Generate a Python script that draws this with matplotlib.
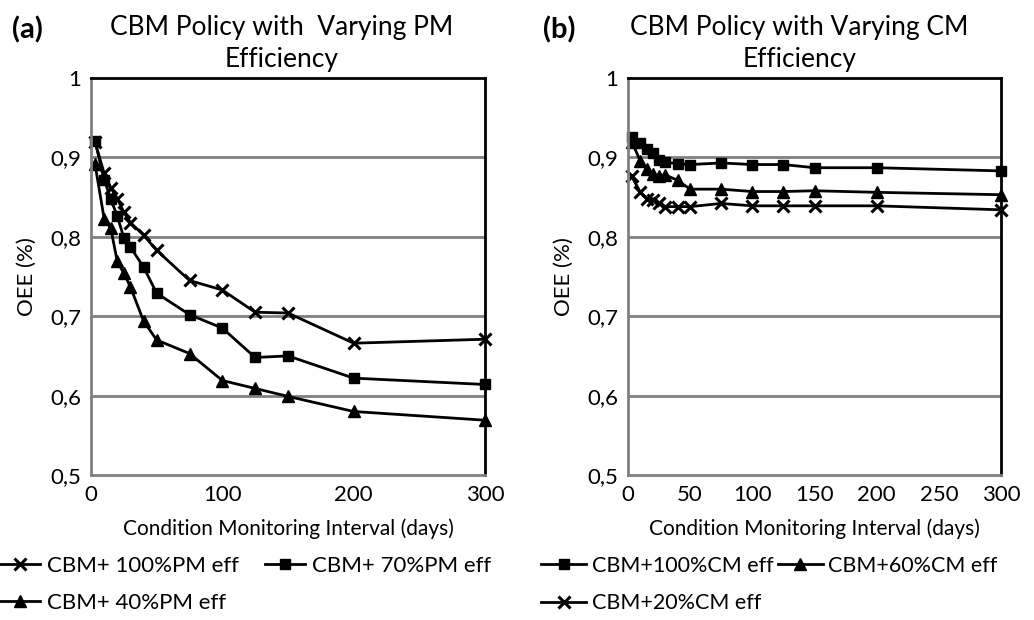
import numpy as np
import matplotlib
matplotlib.use('Agg')
import matplotlib.pyplot as plt
from matplotlib.ticker import FuncFormatter

plt.rcParams['font.family'] = ['Lato', 'DejaVu Sans']

# Daten (a): PM efficiency
tage = [3, 10, 15, 20, 25, 30, 40, 50, 75, 100, 125, 150, 200, 300]
pm_100 = [0.920, 0.880, 0.862, 0.848, 0.831, 0.818, 0.802, 0.783, 0.745, 0.733, 0.705, 0.704, 0.666, 0.671]
pm_70 = [0.921, 0.872, 0.848, 0.826, 0.799, 0.787, 0.762, 0.729, 0.702, 0.685, 0.648, 0.650, 0.622, 0.614]
pm_40 = [0.892, 0.823, 0.811, 0.769, 0.754, 0.737, 0.694, 0.670, 0.653, 0.619, 0.609, 0.599, 0.580, 0.569]

# Daten (b): CM efficiency
cm_100 = [0.926, 0.918, 0.910, 0.905, 0.897, 0.894, 0.892, 0.891, 0.893, 0.891, 0.891, 0.887, 0.887, 0.883]
cm_60 = [0.920, 0.895, 0.885, 0.879, 0.876, 0.878, 0.871, 0.860, 0.860, 0.857, 0.857, 0.858, 0.856, 0.853]
cm_20 = [0.876, 0.856, 0.848, 0.846, 0.842, 0.838, 0.838, 0.838, 0.842, 0.839, 0.839, 0.839, 0.839, 0.834]

labels_a = ['CBM+ 100%PM eff', 'CBM+ 70%PM eff', 'CBM+ 40%PM eff']
labels_b = ['CBM+100%CM eff', 'CBM+60%CM eff', 'CBM+20%CM eff']

fig = plt.figure(figsize=(10.34, 6.2), dpi=100)
ax1 = fig.add_axes([91 / 1034, 1 - 475 / 620, 394 / 1034, 397 / 620])
ax2 = fig.add_axes([628 / 1034, 1 - 475 / 620, 373 / 1034, 397 / 620])


def komma(v, pos):
    if abs(v - 1) < 1e-9:
        return '1'
    return f'{v:.1f}'.replace('.', ',')


def achse_stil(ax, xticks):
    ax.set_xlim(0, 300)
    ax.set_ylim(0.5, 1.0)
    ax.set_xticks(xticks)
    ax.set_yticks([0.5, 0.6, 0.7, 0.8, 0.9, 1.0])
    ax.yaxis.set_major_formatter(FuncFormatter(komma))
    ax.tick_params(length=0, labelsize=16, pad=7)
    for y in [0.6, 0.7, 0.8, 0.9]:
        ax.axhline(y, color='#808080', lw=2, zorder=0)
    for s in ['left', 'bottom']:
        ax.spines[s].set_color('#808080')
        ax.spines[s].set_linewidth(2)
    for s in ['top', 'right']:
        ax.spines[s].set_color('black')
        ax.spines[s].set_linewidth(2)
    ax.set_ylabel('OEE (%)', fontsize=16, labelpad=10)
    ax.set_xlabel('Condition Monitoring Interval (days)', fontsize=15, labelpad=10)


# (a)
ax1.plot(tage, pm_100, color='black', lw=2, marker='x', ms=8, mew=2.2, label=labels_a[0], clip_on=False)
ax1.plot(tage, pm_70, color='black', lw=2, marker='s', ms=6.5, label=labels_a[1], clip_on=False)
ax1.plot(tage, pm_40, color='black', lw=2, marker='^', ms=8, label=labels_a[2], clip_on=False)
achse_stil(ax1, [0, 100, 200, 300])

# (b)
ax2.plot(tage, cm_100, color='black', lw=2, marker='s', ms=6.5, label=labels_b[0], clip_on=False)
ax2.plot(tage, cm_60, color='black', lw=2, marker='^', ms=8, label=labels_b[1], clip_on=False)
ax2.plot(tage, cm_20, color='black', lw=2, marker='x', ms=8, mew=2.2, label=labels_b[2], clip_on=False)
achse_stil(ax2, [0, 50, 100, 150, 200, 250, 300])

# Titel
ax1.text(0.485, 1.015, 'CBM Policy with  Varying PM\nEfficiency', transform=ax1.transAxes,
         ha='center', va='bottom', fontsize=19, linespacing=1.35)
ax2.text(0.46, 1.015, 'CBM Policy with Varying CM\nEfficiency', transform=ax2.transAxes,
         ha='center', va='bottom', fontsize=19, linespacing=1.35)
fig.text(12 / 1034, 1 - 30 / 620, '(a)', fontsize=21, fontweight='bold', va='center')
fig.text(543 / 1034, 1 - 30 / 620, '(b)', fontsize=21, fontweight='bold', va='center')

# Legenden (zeilenweise Reihenfolge)
h1, l1 = ax1.get_legend_handles_labels()
h2, l2 = ax2.get_legend_handles_labels()
ordnung = [0, 2, 1]
fig.legend([h1[i] for i in ordnung], [l1[i] for i in ordnung], loc='upper left',
           bbox_to_anchor=(0.0, 1 - 556 / 620), ncol=2, frameon=False, fontsize=16,
           handlelength=1.8, handletextpad=0.3, columnspacing=1.2, labelspacing=0.75,
           borderaxespad=0, borderpad=0)
fig.legend([h2[i] for i in ordnung], [l2[i] for i in ordnung], loc='upper left',
           bbox_to_anchor=(541 / 1034, 1 - 556 / 620), ncol=2, frameon=False, fontsize=15.5,
           handlelength=2.1, handletextpad=0.25, columnspacing=0.2, labelspacing=0.8,
           borderaxespad=0, borderpad=0)

fig.savefig('out.png', dpi=100)
